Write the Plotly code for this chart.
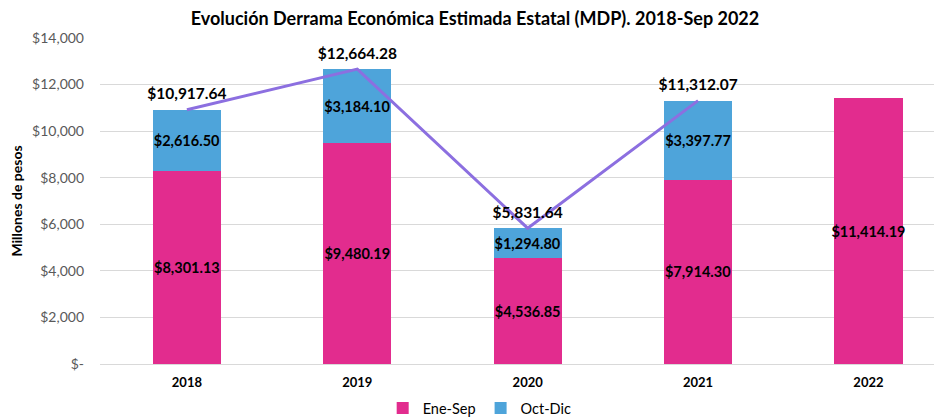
import plotly.graph_objects as go

years = ["2018", "2019", "2020", "2021", "2022"]
ene_sep = [8301.13, 9480.19, 4536.85, 7914.30, 11414.19]
oct_dic = [2616.50, 3184.10, 1294.80, 3397.77, None]
total_years = ["2018", "2019", "2020", "2021"]
totals = [10917.64, 12664.28, 5831.64, 11312.07]

def money(v):
    return "${:,.2f}".format(v)

FONT = "Lato"
LBL = dict(family=FONT, size=14.5, color="black", weight="bold")
fig = go.Figure()
fig.add_trace(go.Bar(
    x=years, y=ene_sep, name="Ene-Sep", marker_color="#E22C8E",
    text=[money(v) for v in ene_sep], textposition="inside", insidetextanchor="middle",
    textangle=0, constraintext="none", textfont=LBL, cliponaxis=False,
    width=0.4, marker_line_width=0,
))
fig.add_trace(go.Bar(
    x=years, y=oct_dic, name="Oct-Dic", marker_color="#4EA4DA",
    text=[money(v) if v is not None else "" for v in oct_dic],
    textposition="inside", insidetextanchor="middle",
    textangle=0, constraintext="none", textfont=LBL, cliponaxis=False,
    width=0.4, marker_line_width=0,
))
fig.add_trace(go.Scatter(
    x=total_years, y=totals, mode="lines+markers+text", name="Total", showlegend=False,
    line=dict(color="#8C6FE0", width=3),
    marker=dict(size=9, opacity=0),
    text=[money(v) for v in totals], textposition="top center",
    textfont=dict(family=FONT, size=15.5, color="black", weight="bold"), cliponaxis=False,
))

# page body has an 8px default margin, so the figure is sized to the visible area
fig.update_layout(
    barmode="stack",
    width=934, height=409,
    margin=dict(l=92, r=2, t=30, b=53, autoexpand=False),
    paper_bgcolor="white", plot_bgcolor="white",
    font=dict(family=FONT, color="#595959", size=12),
    uniformtext=dict(mode="show", minsize=8),
    title=dict(text="<b>Evolución Derrama Económica Estimada Estatal (MDP). 2018-Sep 2022</b>",
               x=0.5, xanchor="center", yref="container", y=0.975, yanchor="middle",
               font=dict(family=FONT, size=18, color="black")),
    legend=dict(orientation="h", x=0.452, xanchor="center", yref="paper", y=-0.135, yanchor="middle",
                font=dict(family=FONT, size=14.5, color="black"), itemwidth=30,
                traceorder="normal"),
    xaxis=dict(type="category", range=[-0.51, 4.42], showgrid=False, automargin=False,
               tickfont=dict(family=FONT, size=13, color="black", weight="bold"),
               showline=True, linecolor="#d9d9d9", ticks="", ticklabelstandoff=6),
    yaxis=dict(range=[0, 14000], gridcolor="#d9d9d9", zeroline=False, automargin=False,
               tickvals=[0, 2000, 4000, 6000, 8000, 10000, 12000, 14000],
               ticktext=["$-", "$2,000", "$4,000", "$6,000", "$8,000", "$10,000", "$12,000", "$14,000"],
               tickfont=dict(family=FONT, size=14, color="#595959"),
               ticklabelstandoff=15,
               title=dict(text="Millones de pesos", standoff=10,
                          font=dict(family=FONT, size=14, color="black", weight="bold"))),
)
fig.write_html("out.html")
